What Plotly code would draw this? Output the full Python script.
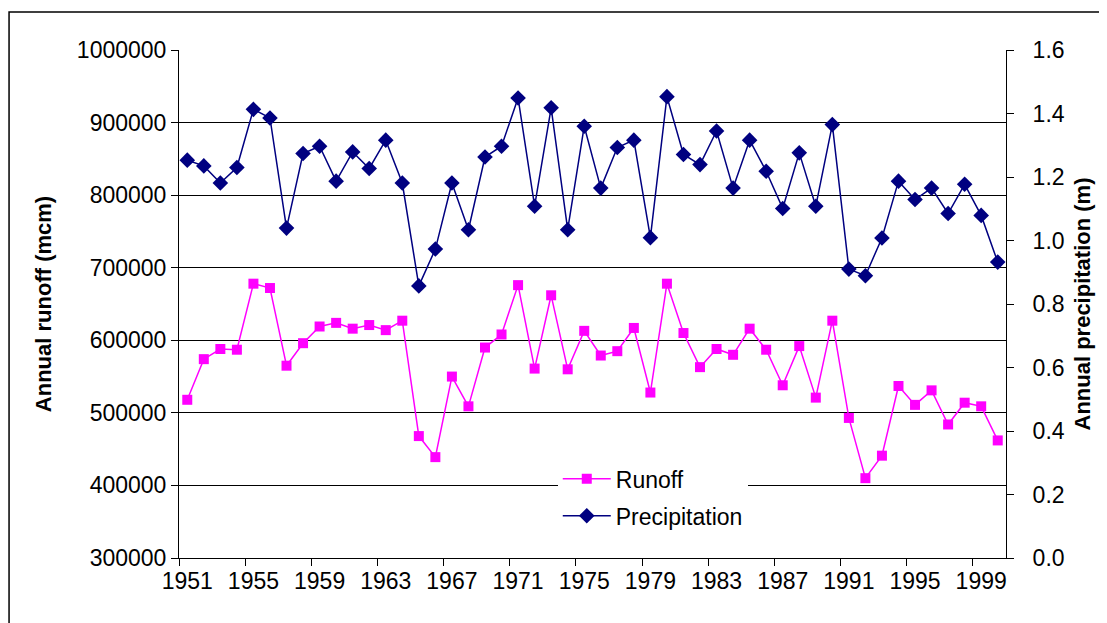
import plotly.graph_objects as go

years = list(range(1951, 2001))

runoff = [518000, 574000, 588000, 587000, 678000, 672000, 565000, 596000, 619000, 624000,
          616000, 621000, 614000, 627000, 468000, 439000, 550000, 509000, 590000, 608000,
          676000, 561000, 662000, 560000, 613000, 579000, 585000, 617000, 528000, 678000,
          610000, 563000, 588000, 580000, 616000, 587000, 538000, 592000, 521000, 627000,
          493000, 410000, 441000, 537000, 511000, 531000, 484000, 514000, 509000, 462000]

precipitation = [1.253, 1.235, 1.181, 1.230, 1.413, 1.386, 1.039, 1.274, 1.297, 1.187,
                 1.279, 1.227, 1.316, 1.181, 0.857, 0.973, 1.181, 1.034, 1.263, 1.297,
                 1.449, 1.108, 1.418, 1.034, 1.360, 1.165, 1.293, 1.316, 1.009, 1.453,
                 1.271, 1.239, 1.345, 1.165, 1.316, 1.218, 1.101, 1.276, 1.108, 1.365,
                 0.910, 0.889, 1.008, 1.187, 1.129, 1.165, 1.085, 1.177, 1.079, 0.932]

x_labels = [1951, 1955, 1959, 1963, 1967, 1971, 1975, 1979, 1983, 1987, 1991, 1995, 1999]
left_ticks = [300000, 400000, 500000, 600000, 700000, 800000, 900000, 1000000]
right_ticks = [0.0, 0.2, 0.4, 0.6, 0.8, 1.0, 1.2, 1.4, 1.6]

FONT = "Liberation Sans, Arial, sans-serif"

fig = go.Figure()
fig.add_trace(go.Scatter(
    x=years, y=runoff, name="Runoff", mode="lines+markers", legendgroup="a",
    line=dict(color="#FF00FF", width=1.5),
    marker=dict(symbol="square", size=10, color="#FF00FF"),
    yaxis="y"))
fig.add_trace(go.Scatter(
    x=years, y=precipitation, name="Precipitation", mode="lines+markers", legendgroup="b",
    line=dict(color="#000080", width=1.5),
    marker=dict(symbol="diamond", size=12, color="#000080"),
    yaxis="y2"))

boundaries = [y - 0.5 for y in x_labels]

# the page body adds an 8px margin, so the figure is shrunk and shifted by 8px
fig.update_layout(
    width=1099, height=615,
    margin=dict(l=171, r=101, t=42, b=65),
    paper_bgcolor="white", plot_bgcolor="white",
    font=dict(family=FONT, size=23, color="black"),
    showlegend=True,
    legend=dict(x=0.458, y=0.198, xanchor="left", yanchor="top",
                bgcolor="white", borderwidth=0, itemwidth=48, tracegroupgap=4,
                font=dict(family=FONT, size=23, color="black")),
    xaxis=dict(
        range=[1950.5, 2000.5],
        tickmode="array", tickvals=x_labels, ticktext=[str(v) for v in x_labels],
        ticks="", showgrid=False, zeroline=False, ticklabelstandoff=2,
        showline=True, linecolor="black", linewidth=1,
        tickfont=dict(family=FONT, size=23, color="black"),
        minor=dict(tickmode="array", tickvals=boundaries, ticks="outside",
                   ticklen=7, tickcolor="black", tickwidth=1, showgrid=False),
    ),
    yaxis=dict(
        range=[300000, 1000000],
        tickmode="array", tickvals=left_ticks, ticktext=[str(v) for v in left_ticks],
        ticks="outside", ticklen=7, tickcolor="black",
        showgrid=True, gridcolor="black", gridwidth=1, zeroline=False,
        showline=True, linecolor="black", linewidth=1,
        title=dict(text="<b>Annual runoff (mcm)</b>", standoff=19,
                   font=dict(family=FONT, size=22, color="black")),
        tickfont=dict(family=FONT, size=23, color="black"),
    ),
    yaxis2=dict(
        range=[0, 1.6], overlaying="y", side="right",
        tickmode="array", tickvals=right_ticks, ticktext=[f"{v:.1f}" for v in right_ticks],
        ticks="outside", ticklen=7, tickcolor="black", ticklabelstandoff=14,
        showgrid=False, zeroline=False,
        showline=True, linecolor="black", linewidth=1,
        title=dict(text="<b>Annual precipitation (m)</b>", standoff=10,
                   font=dict(family=FONT, size=22, color="black")),
        tickfont=dict(family=FONT, size=23, color="black"),
    ),
    shapes=[dict(type="rect", xref="paper", yref="paper",
                 x0=-0.2055, x1=1.14, y0=-0.16, y1=1.075,
                 line=dict(color="black", width=1.5), fillcolor="rgba(0,0,0,0)",
                 layer="below")],
)

fig.write_html("out.html")
